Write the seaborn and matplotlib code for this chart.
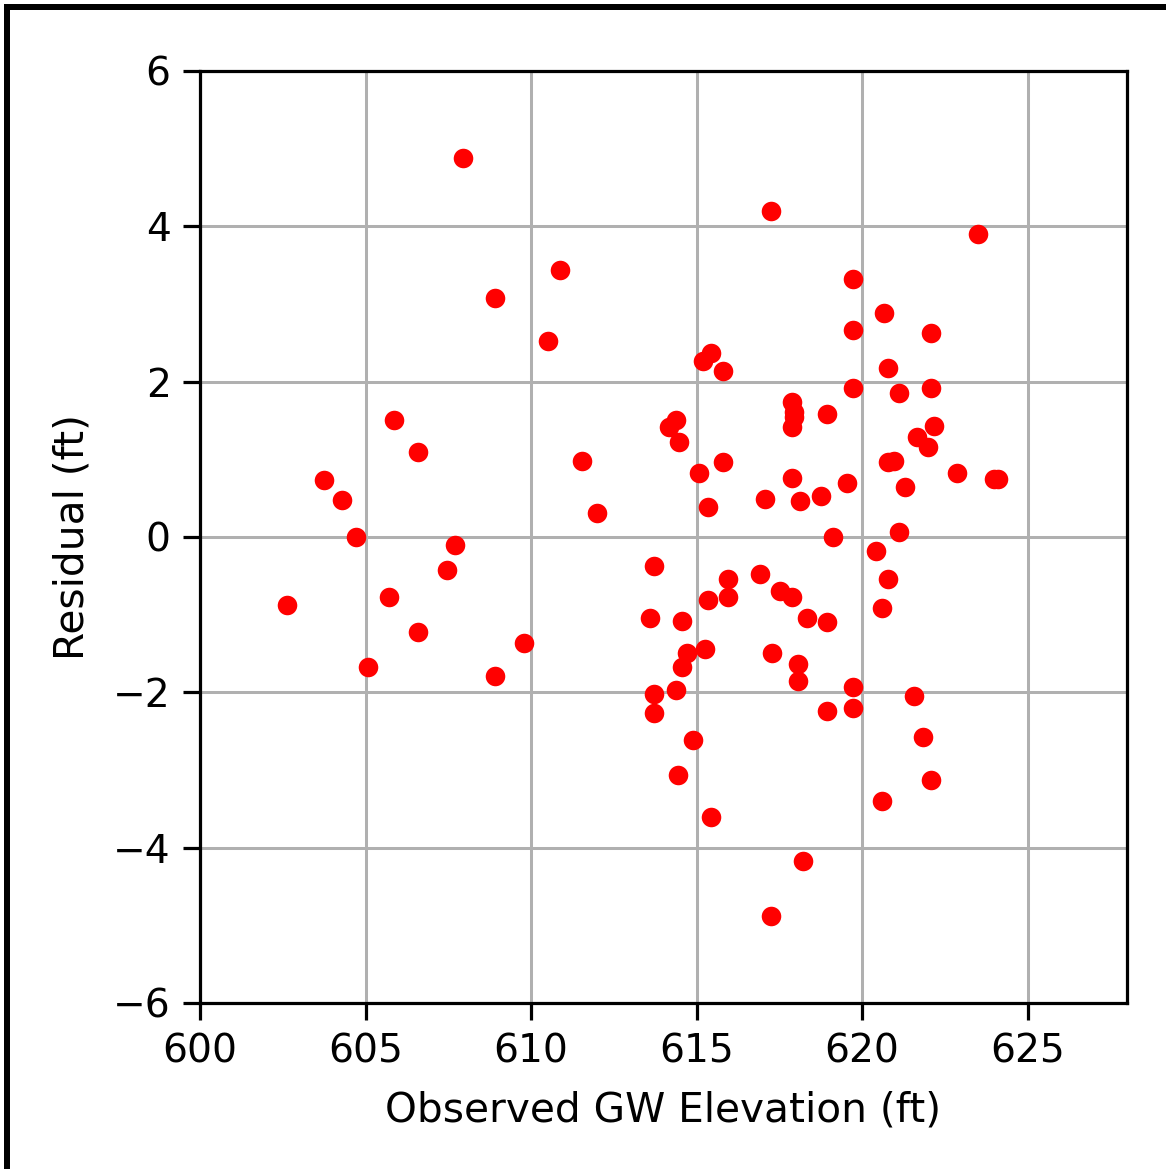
import matplotlib
matplotlib.use("Agg")
import matplotlib.pyplot as plt
from matplotlib.lines import Line2D
import seaborn as sns
import pandas as pd

observed = [602.64, 603.75, 604.30, 604.72, 605.08, 605.72, 605.87, 606.59, 606.59, 607.47,
            607.71, 607.95, 608.92, 608.92, 609.79, 610.52, 610.88, 611.55, 612.00, 613.70,
            613.60, 613.70, 613.70, 614.18, 614.39, 614.48, 614.39, 614.45, 614.57, 614.57,
            614.72, 614.90, 615.08, 615.20, 615.44, 615.35, 615.26, 615.35, 615.44, 615.80,
            615.80, 615.96, 615.96, 616.92, 617.07, 617.26, 617.29, 617.26, 617.53, 617.89,
            617.89, 617.95, 617.95, 617.89, 617.89, 618.07, 618.07, 618.13, 618.22, 618.34,
            618.77, 618.95, 618.95, 618.95, 619.13, 619.55, 619.73, 619.73, 619.73, 619.73,
            619.73, 620.43, 620.61, 620.61, 620.67, 620.79, 620.79, 620.79, 620.97, 621.12,
            621.12, 621.30, 621.57, 621.66, 621.84, 622.00, 622.09, 622.09, 622.09, 622.18,
            622.87, 623.50, 623.99, 624.11]
residual = [-0.88, 0.73, 0.47, 0.00, -1.67, -0.77, 1.51, 1.10, -1.22, -0.43,
            -0.10, 4.88, -1.79, 3.08, -1.37, 2.52, 3.44, 0.98, 0.31, -0.37,
            -1.04, -2.02, -2.26, 1.41, 1.51, 1.22, -1.97, -3.06, -1.08, -1.67,
            -1.49, -2.61, 0.83, 2.26, 2.37, 0.38, -1.44, -0.81, -3.61, 2.14,
            0.96, -0.54, -0.77, -0.47, 0.49, 4.20, -1.49, -4.88, -0.70, -0.77,
            1.74, 1.61, 1.54, 1.42, 0.76, -1.63, -1.86, 0.46, -4.17, -1.04,
            0.53, 1.59, -1.10, -2.24, 0.00, 0.69, 3.32, 2.66, 1.92, -1.93,
            -2.20, -0.18, -0.92, -3.40, 2.89, 2.18, -0.54, 0.96, 0.98, 1.85,
            0.06, 0.65, -2.05, 1.29, -2.57, 1.16, 2.63, 1.92, -3.13, 1.43,
            0.83, 3.90, 0.75, 0.75]

x_ticks = [600, 605, 610, 615, 620, 625]
y_ticks = [-6, -4, -2, 0, 2, 4, 6]

df = pd.DataFrame({"Observed GW Elevation (ft)": observed, "Residual (ft)": residual})

DPI = 271
W, H = 1166, 1169
fig = plt.figure(figsize=(W / DPI, H / DPI), dpi=DPI)
ax = fig.add_axes([200 / W, 1 - 1003 / H, 927 / W, 932 / H])

sns.scatterplot(data=df, x="Observed GW Elevation (ft)", y="Residual (ft)",
                color="red", s=27, linewidth=0, ax=ax, zorder=3)

ax.set_xlim(600, 628)
ax.set_ylim(-6, 6)
ax.set_xticks(x_ticks)
ax.set_yticks(y_ticks)
ax.grid(True, color="#b0b0b0", linewidth=0.8)
ax.set_axisbelow(True)
ax.tick_params(labelsize=10.4, length=4.6, width=0.85, pad=3.2)
for s in ax.spines.values():
    s.set_linewidth(0.85)
ax.set_xlabel("Observed GW Elevation (ft)", fontsize=10.8, labelpad=5.3)
ax.set_ylabel("Residual (ft)", fontsize=10.8, labelpad=5.3)

lw = 6 * 72 / DPI
fig.add_artist(Line2D([4 / W, 1], [1 - 7 / H, 1 - 7 / H], color="black", linewidth=lw,
                      transform=fig.transFigure, solid_capstyle="butt"))
fig.add_artist(Line2D([6.5 / W, 6.5 / W], [0, 1 - 4 / H], color="black", linewidth=lw,
                      transform=fig.transFigure, solid_capstyle="butt"))

fig.savefig("out.png", dpi=DPI)
